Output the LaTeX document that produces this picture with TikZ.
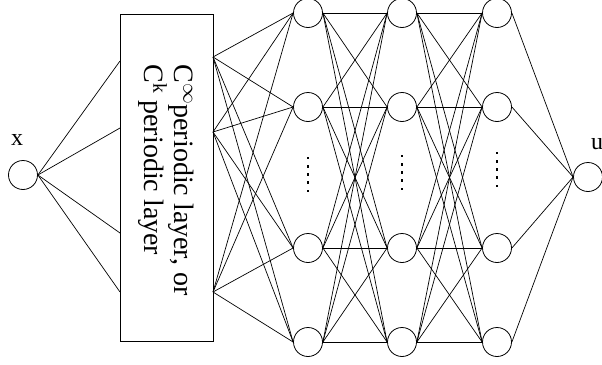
\documentclass[tikz,border=0pt]{standalone}
\usepackage{fontspec}
\setmainfont{Liberation Serif}
\begin{document}
\begin{tikzpicture}[x=1pt,y=-1pt,
  neuron/.style={draw,circle,line width=0.8pt,minimum size=29pt,inner sep=0pt},
  link/.style={line width=0.7pt},
  dotmark/.style={fill=black,draw=none,minimum size=2.6pt,inner sep=0pt,rectangle},
  lbl/.style={font=\fontsize{24}{26}\selectfont}]
\useasboundingbox (0,0) rectangle (602,364);

% input and output neurons
\node[neuron] (xin) at (23,175) {};
\node[lbl] (xlab) at (17,140) {x};
\node[neuron] (uout) at (588,177) {};
\node[lbl] (ulab) at (597,144) {u};

% periodic layer box
\node[draw,line width=0.8pt,minimum width=93pt,minimum height=327pt,inner sep=0pt] (box) at (166.5,177.5) {};
\node[rotate=-90,align=left,font=\fontsize{28}{30}\selectfont] (boxtext) at (166,180)
  {C\textsuperscript{$\infty$}periodic layer, or\\C\textsuperscript{k} periodic layer};

% attachment points on the box edges
\foreach \i/\yy in {1/61,2/128,3/233,4/292} \coordinate (bl\i) at (120,\yy);
\foreach \i/\yy in {1/57,2/132,3/292} \coordinate (br\i) at (213,\yy);

% hidden layers
\foreach \c/\xx in {1/308,2/402,3/497}
  \foreach \r/\yy in {1/13,2/107,3/248,4/342}
    \node[neuron] (h\c\r) at (\xx,\yy) {};

% vertical ellipses between rows 2 and 3
\foreach \c/\xx/\ys in {1/308/158,2/402/156,3/497/153}
  \foreach \k in {0,...,4}
    \node[dotmark] (d\c\k) at (\xx,\ys+8.2*\k) {};

% connections
\foreach \i in {1,...,4} \draw[link] (xin.east) -- (bl\i);
\foreach \i in {1,2,3}
  \foreach \r in {1,...,4}
    \draw[link] (br\i) -- (h1\r.west);
\foreach \a in {1,...,4}
  \foreach \b in {1,...,4} {
    \draw[link] (h1\a.east) -- (h2\b.west);
    \draw[link] (h2\a.east) -- (h3\b.west);
  }
\foreach \r in {1,...,4} \draw[link] (h3\r.east) -- (uout.west);
\end{tikzpicture}
\end{document}
